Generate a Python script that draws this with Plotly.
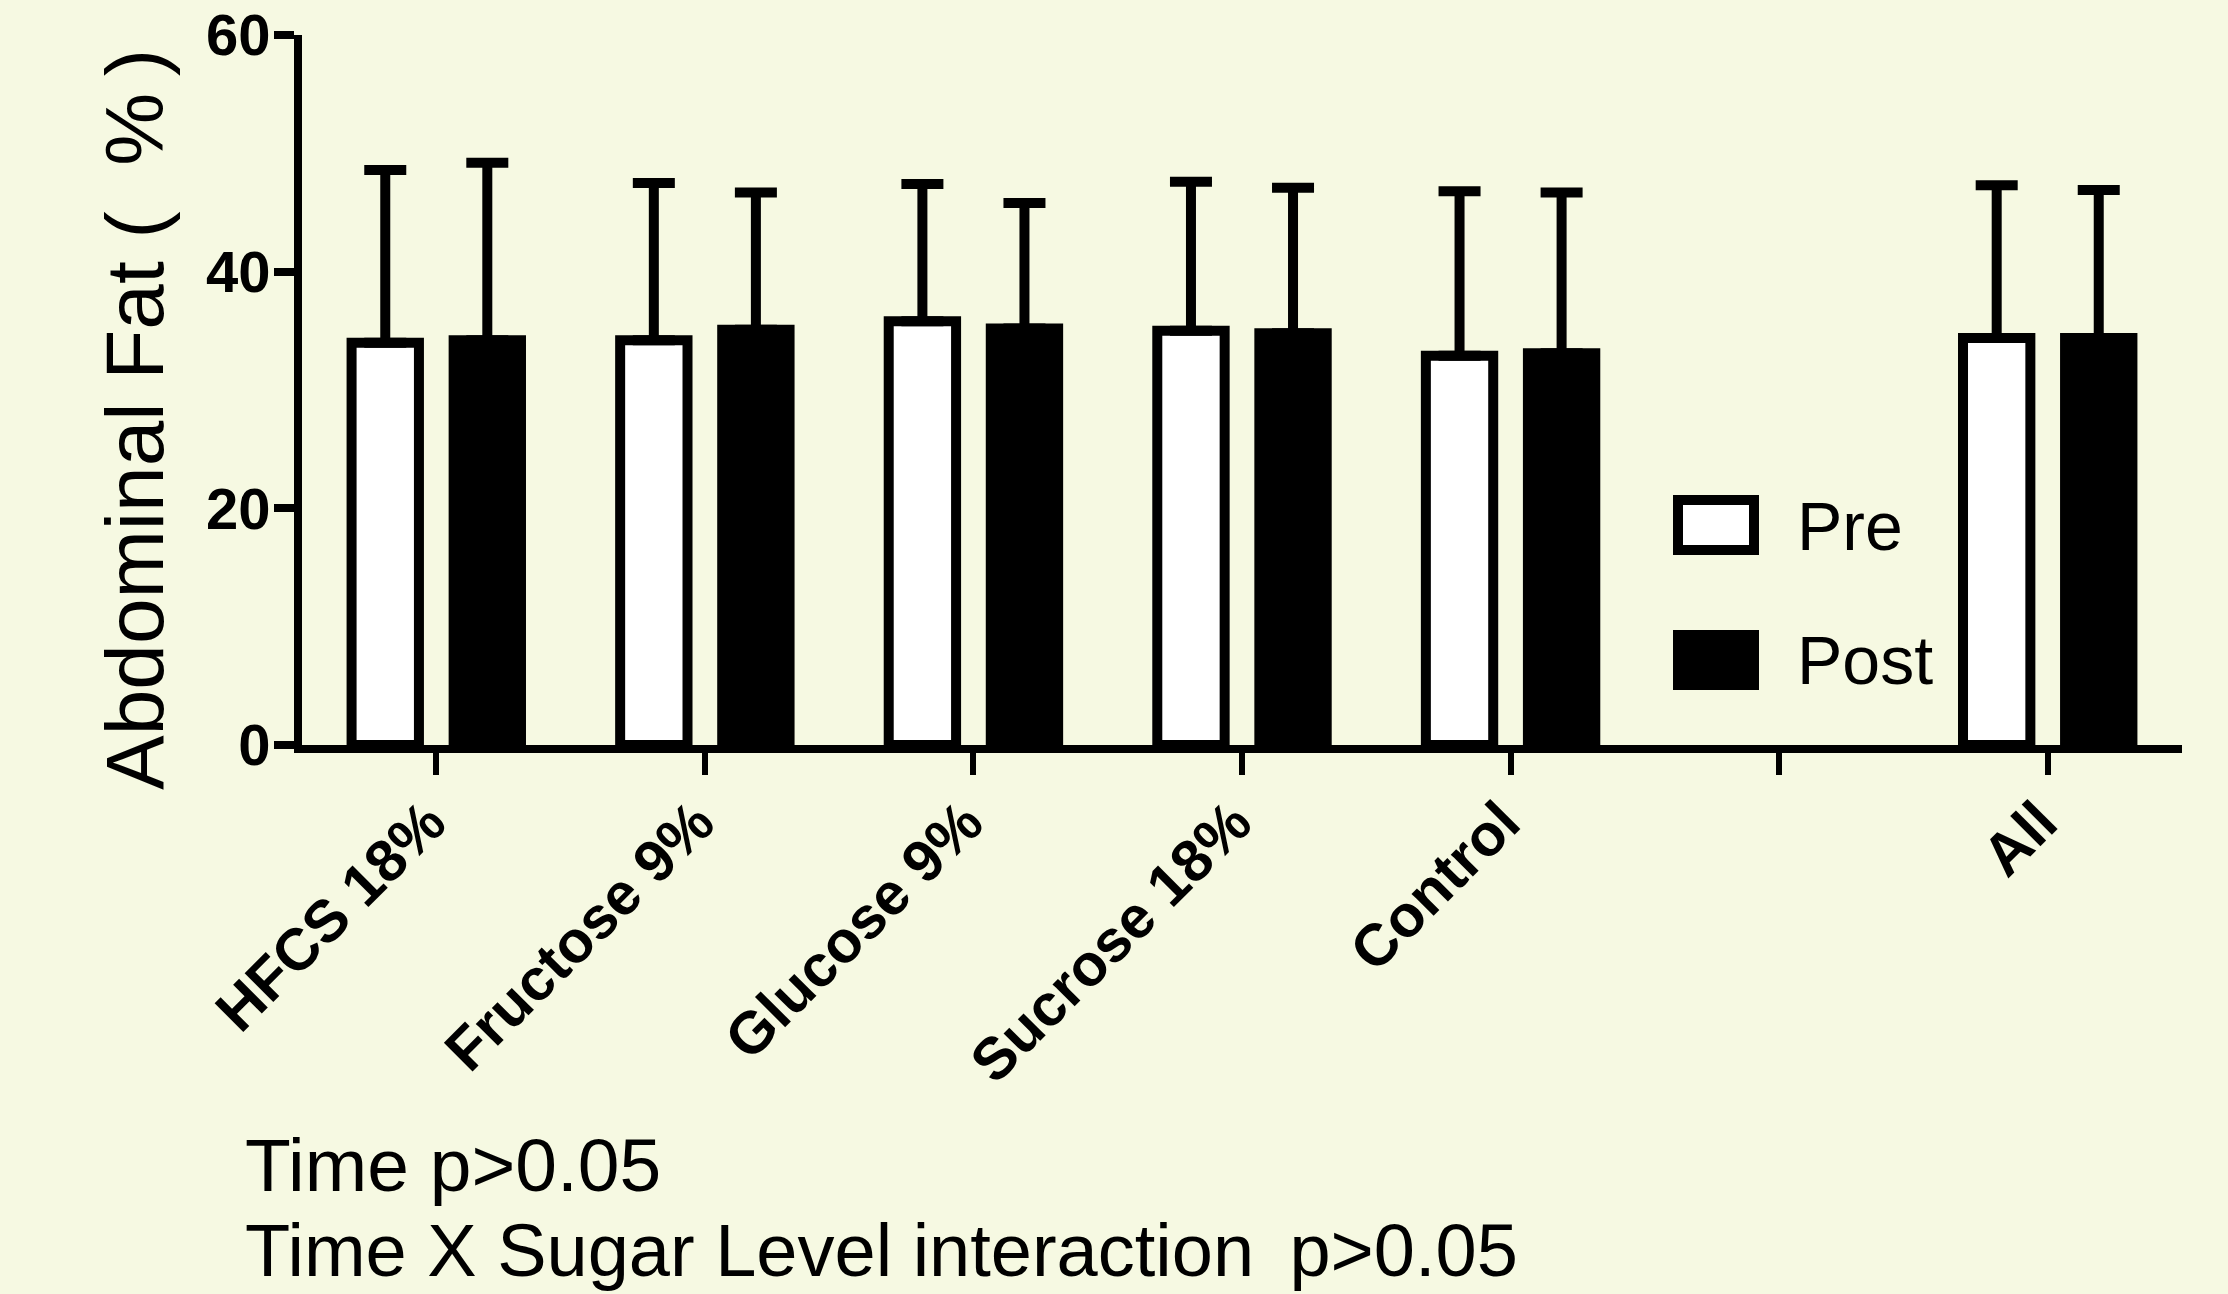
import plotly.graph_objects as go

categories = ["HFCS 18%", "Fructose 9%", "Glucose 9%", "Sucrose 18%", "Control", " ", "All"]
pre_mean = [34.0, 34.2, 35.8, 35.0, 32.9, None, 34.4]
pre_sd = [14.6, 13.3, 11.6, 12.6, 13.9, None, 12.9]
post_mean = [34.2, 35.1, 35.2, 34.8, 33.1, None, 34.4]
post_sd = [15.0, 11.6, 10.6, 12.3, 13.6, None, 12.5]
y_ticks = [0, 20, 40, 60]

W, H = 2228, 1294
L, R, T, B = 302, 2182, 35, 745
BG = "#F6F9E2"
FONT = "Liberation Sans, Arial, sans-serif"


def px_x(px):
    return (px - L) / (R - L)


def px_y(py):
    return (B - py) / (B - T)


fig = go.Figure()
fig.add_trace(go.Bar(
    name="Pre", x=categories, y=pre_mean,
    marker=dict(color="white", line=dict(color="black", width=10)),
    error_y=dict(type="data", symmetric=False, array=pre_sd,
                 arrayminus=[0 if v is not None else None for v in pre_sd],
                 thickness=10, width=21, color="black"),
    showlegend=False,
))
fig.add_trace(go.Bar(
    name="Post", x=categories, y=post_mean,
    marker=dict(color="black", line=dict(color="black", width=10)),
    error_y=dict(type="data", symmetric=False, array=post_sd,
                 arrayminus=[0 if v is not None else None for v in post_sd],
                 thickness=10, width=21, color="black"),
    showlegend=False,
))

fig.update_layout(
    width=W, height=H,
    margin=dict(l=L, r=W - R, t=T, b=H - B, pad=0, autoexpand=False),
    paper_bgcolor=BG, plot_bgcolor=BG,
    barmode="group", bargap=0.24, bargroupgap=0.34,
    showlegend=False,
    font=dict(family=FONT, color="black"),
)
fig.update_xaxes(
    type="category", categoryorder="array", categoryarray=categories,
    range=[-0.5, len(categories) - 0.5], automargin=False,
    showline=True, linecolor="black", linewidth=8,
    ticks="outside", ticklen=22, tickwidth=6, tickcolor="black",
    tickangle=-45, tickfont=dict(family=FONT, size=59, weight="bold"),
    ticklabelstandoff=-11, ticklabelshift=-8,
    showgrid=False, zeroline=False,
)
fig.update_yaxes(
    range=[0, 60], tickvals=y_ticks, automargin=False,
    showline=True, linecolor="black", linewidth=8,
    ticks="outside", ticklen=20, tickwidth=8, tickcolor="black",
    tickfont=dict(family=FONT, size=58, weight="bold"),
    ticklabelstandoff=-8,
    showgrid=False, zeroline=False,
)

ann = []
ann.append(dict(text="Abdominal Fat (\u00a0\u00a0%\u2009)", textangle=-90,
                xref="paper", yref="paper", x=px_x(135), y=px_y(420),
                xanchor="center", yanchor="middle", showarrow=False,
                font=dict(family=FONT, size=82, color="black")))
ann.append(dict(text="Pre", xref="paper", yref="paper", x=px_x(1795), y=px_y(526),
                xanchor="left", yanchor="middle", showarrow=False,
                font=dict(family=FONT, size=68, color="black")))
ann.append(dict(text="Post", xref="paper", yref="paper", x=px_x(1795), y=px_y(660),
                xanchor="left", yanchor="middle", showarrow=False,
                font=dict(family=FONT, size=68, color="black")))
ann.append(dict(text="Time p>0.05", xref="paper", yref="paper", x=px_x(243), y=px_y(1165),
                xanchor="left", yanchor="middle", showarrow=False,
                font=dict(family=FONT, size=75, color="black")))
ann.append(dict(text="Time X Sugar Level interaction\u00a0\u2009p>0.05", xref="paper", yref="paper",
                x=px_x(243), y=px_y(1250),
                xanchor="left", yanchor="middle", showarrow=False,
                font=dict(family=FONT, size=74, color="black")))
fig.update_layout(annotations=ann)

shapes = [
    dict(type="rect", xref="paper", yref="paper",
         x0=px_x(1678), x1=px_x(1754), y0=px_y(500), y1=px_y(550),
         fillcolor="white", line=dict(color="black", width=10)),
    dict(type="rect", xref="paper", yref="paper",
         x0=px_x(1678), x1=px_x(1754), y0=px_y(635), y1=px_y(685),
         fillcolor="black", line=dict(color="black", width=10)),
]
fig.update_layout(shapes=shapes)

page_css = ("document.body.style.margin='0px';"
            "document.body.style.overflow='hidden';"
            "document.body.style.backgroundColor='" + BG + "';")
fig.write_html("out.html", post_script=page_css, config={"displayModeBar": False})
